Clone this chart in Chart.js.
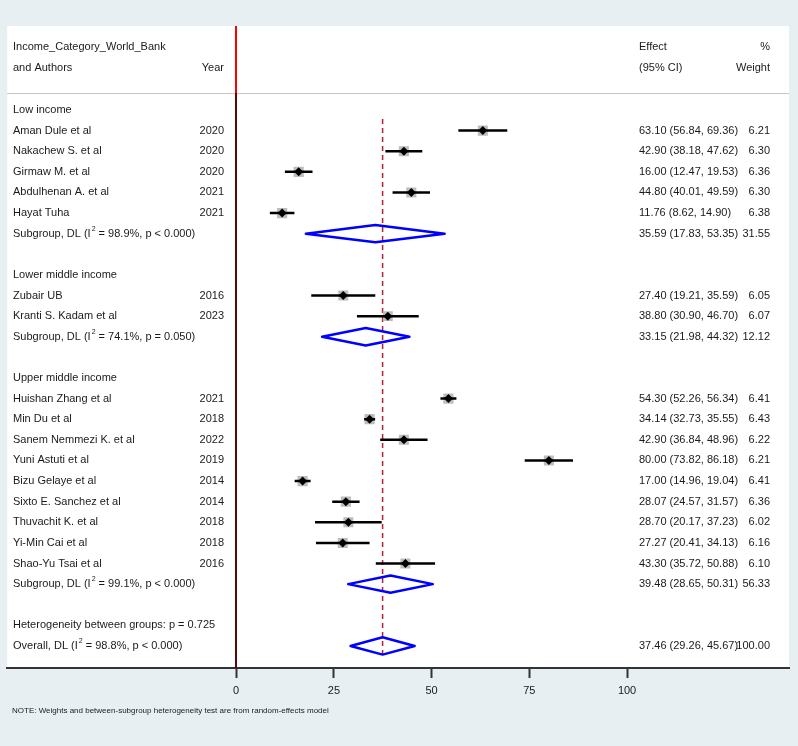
<!DOCTYPE html>
<html>
<head>
<meta charset="utf-8">
<script src="https://cdn.jsdelivr.net/npm/chart.js@4.4.1/dist/chart.umd.min.js"></script>
<style>
  html, body { margin: 0; padding: 0; background: #e8eff2; }
  canvas { display: block; }
</style>
</head>
<body>
<canvas id="forest" width="798" height="746"></canvas>
<script>
// ---- data ----
const groupNames = ["Low income", "Lower middle income", "Upper middle income"];

const studyNames = [
  "Aman Dule et al", "Nakachew S. et al", "Girmaw M. et al", "Abdulhenan A. et al", "Hayat Tuha",
  "Zubair UB", "Kranti S. Kadam et al",
  "Huishan Zhang et al", "Min Du et al", "Sanem Nemmezi K. et al", "Yuni Astuti et al",
  "Bizu Gelaye et al", "Sixto E. Sanchez et al", "Thuvachit K. et al", "Yi-Min Cai et al", "Shao-Yu Tsai et al"
];
const studyYears  = [2020, 2020, 2020, 2021, 2021, 2016, 2023, 2021, 2018, 2022, 2019, 2014, 2014, 2018, 2018, 2016];
const studyGroup  = [0, 0, 0, 0, 0, 1, 1, 2, 2, 2, 2, 2, 2, 2, 2, 2];
const studyEst    = [63.10, 42.90, 16.00, 44.80, 11.76, 27.40, 38.80, 54.30, 34.14, 42.90, 80.00, 17.00, 28.07, 28.70, 27.27, 43.30];
const studyLo     = [56.84, 38.18, 12.47, 40.01, 8.62, 19.21, 30.90, 52.26, 32.73, 36.84, 73.82, 14.96, 24.57, 20.17, 20.41, 35.72];
const studyHi     = [69.36, 47.62, 19.53, 49.59, 14.90, 35.59, 46.70, 56.34, 35.55, 48.96, 86.18, 19.04, 31.57, 37.23, 34.13, 50.88];
const studyWeight = [6.21, 6.30, 6.36, 6.30, 6.38, 6.05, 6.07, 6.41, 6.43, 6.22, 6.21, 6.41, 6.36, 6.02, 6.16, 6.10];

const subgroupLabels = [
  "Subgroup, DL (I^2 = 98.9%, p < 0.000)",
  "Subgroup, DL (I^2 = 74.1%, p = 0.050)",
  "Subgroup, DL (I^2 = 99.1%, p < 0.000)"
];
const subgroupEst    = [35.59, 33.15, 39.48];
const subgroupLo     = [17.83, 21.98, 28.65];
const subgroupHi     = [53.35, 44.32, 50.31];
const subgroupWeight = [31.55, 12.12, 56.33];

const hetLabel = "Heterogeneity between groups: p = 0.725";
const overallLabel = "Overall, DL (I^2 = 98.8%, p < 0.000)";
const overallEst = 37.46, overallLo = 29.26, overallHi = 45.67, overallWeight = 100.00;

const xTicks = [0, 25, 50, 75, 100];
const noteText = "NOTE: Weights and between-subgroup heterogeneity test are from random-effects model";

// ---- build rows (row index = y value) ----
const rows = [];
let r = 0;
groupNames.forEach((g, gi) => {
  rows.push({ y: r++, kind: "head", label: g });
  studyNames.forEach((n, i) => {
    if (studyGroup[i] === gi) rows.push({ y: r++, kind: "study", label: n, year: studyYears[i],
      est: studyEst[i], lo: studyLo[i], hi: studyHi[i], w: studyWeight[i] });
  });
  rows.push({ y: r++, kind: "sub", label: subgroupLabels[gi],
    est: subgroupEst[gi], lo: subgroupLo[gi], hi: subgroupHi[gi], w: subgroupWeight[gi] });
  r++; // blank line
});
rows.push({ y: r++, kind: "head", label: hetLabel });
rows.push({ y: r++, kind: "sub", label: overallLabel, est: overallEst, lo: overallLo, hi: overallHi, w: overallWeight });

const studies = rows.filter(d => d.kind === "study");
const pooled = rows.filter(d => d.kind === "sub");
const lastRow = r - 1;

const fmt = v => v.toFixed(2);
const FONT = "'Liberation Sans', Arial, sans-serif";
const DH = 0.42; // half-height of the pooled diamonds, in rows

const ciData = [];
studies.forEach(d => { ciData.push({ x: d.lo, y: d.y }, { x: d.hi, y: d.y }, { x: d.hi, y: null }); });

const diamondData = [];
pooled.forEach(d => {
  diamondData.push({ x: d.lo, y: d.y }, { x: d.est, y: d.y - DH }, { x: d.hi, y: d.y },
    { x: d.est, y: d.y + DH }, { x: d.lo, y: d.y }, { x: d.est, y: d.y - DH }, { x: d.lo, y: null });
});

function drawRich(ctx, text, x, y) {
  const parts = text.split("^2");
  let cx = x;
  ctx.textAlign = "left";
  parts.forEach((p, i) => {
    if (i > 0) {
      ctx.font = "7px " + FONT;
      ctx.fillText("2", cx + 1, y - 5);
      cx += ctx.measureText("2").width + 1;
      ctx.font = "11px " + FONT;
    }
    ctx.fillText(p, cx, y);
    cx += ctx.measureText(p).width;
  });
}

const forestPlugin = {
  id: "forest",
  beforeDraw(chart) {
    const { ctx, chartArea: a } = chart;
    ctx.save();
    ctx.fillStyle = "#ffffff";
    ctx.fillRect(a.left, a.top, a.right - a.left, a.bottom - a.top);
    ctx.restore();
  },
  beforeDatasetsDraw(chart) {
    const { ctx, chartArea: a, scales: { x, y } } = chart;
    const sepY = y.getPixelForValue(-0.82);
    ctx.save();
    // header separator
    ctx.strokeStyle = "#c4c4c4";
    ctx.lineWidth = 1;
    ctx.beginPath(); ctx.moveTo(a.left, sepY + 0.5); ctx.lineTo(a.right, sepY + 0.5); ctx.stroke();
    // null line at 0
    const x0 = Math.round(x.getPixelForValue(0));
    ctx.lineWidth = 2;
    ctx.strokeStyle = "#ff0000";
    ctx.beginPath(); ctx.moveTo(x0, a.top); ctx.lineTo(x0, sepY); ctx.stroke();
    ctx.strokeStyle = "#5a0606";
    ctx.beginPath(); ctx.moveTo(x0, sepY); ctx.lineTo(x0, a.bottom); ctx.stroke();
    // overall estimate dashed line
    const xo = x.getPixelForValue(overallEst);
    ctx.strokeStyle = "#b22234";
    ctx.lineWidth = 1.5;
    ctx.setLineDash([5, 4]);
    ctx.beginPath(); ctx.moveTo(xo, y.getPixelForValue(0.44)); ctx.lineTo(xo, y.getPixelForValue(lastRow + 0.53)); ctx.stroke();
    ctx.restore();
  },
  afterDraw(chart) {
    const { ctx, scales: { y } } = chart;
    ctx.save();
    ctx.fillStyle = "#1a1a1a";
    ctx.textBaseline = "middle";
    ctx.font = "11px " + FONT;
    const h1 = y.getPixelForValue(-3.05), h2 = y.getPixelForValue(-2.03);
    ctx.textAlign = "left";
    ctx.fillText("Income_Category_World_Bank", 13, h1);
    ctx.fillText("and Authors", 13, h2);
    ctx.fillText("Effect", 639, h1);
    ctx.fillText("(95% CI)", 639, h2);
    ctx.textAlign = "right";
    ctx.fillText("Year", 224, h2);
    ctx.fillText("%", 770, h1);
    ctx.fillText("Weight", 770, h2);

    rows.forEach(d => {
      const py = y.getPixelForValue(d.y);
      drawRich(ctx, d.label, 13, py);
      ctx.font = "11px " + FONT;
      if (d.year) { ctx.textAlign = "right"; ctx.fillText(String(d.year), 224, py); }
      if (d.est !== undefined) {
        ctx.textAlign = "left";
        ctx.fillText(fmt(d.est) + " (" + fmt(d.lo) + ", " + fmt(d.hi) + ")", 639, py);
        ctx.textAlign = "right";
        ctx.fillText(fmt(d.w), 770, py);
      }
    });

    ctx.textAlign = "left";
    ctx.font = "8px " + FONT;
    ctx.fillText(noteText, 12, 711);
    ctx.restore();
  }
};

new Chart(document.getElementById("forest"), {
  type: "scatter",
  data: {
    datasets: [
      {
        label: "weights",
        data: studies.map(d => ({ x: d.est, y: d.y })),
        pointStyle: "rect",
        pointRadius: studies.map(d => 2.85 * Math.sqrt(d.w)),
        backgroundColor: "#bdbdbd",
        borderWidth: 0,
        order: 3
      },
      {
        label: "ci",
        data: ciData,
        showLine: true,
        spanGaps: false,
        borderColor: "#000000",
        borderWidth: 2.5,
        pointRadius: 0,
        order: 2
      },
      {
        label: "estimates",
        data: studies.map(d => ({ x: d.est, y: d.y })),
        pointStyle: "rectRot",
        pointRadius: 4.5,
        backgroundColor: "#000000",
        borderWidth: 0,
        order: 1
      },
      {
        label: "pooled",
        data: diamondData,
        showLine: true,
        spanGaps: false,
        borderColor: "#0000ff",
        borderWidth: 2.5,
        borderJoinStyle: "round",
        pointRadius: 0,
        order: 0
      }
    ]
  },
  options: {
    responsive: false,
    animation: false,
    layout: { padding: { left: 7, right: 9, top: 26, bottom: 0 } },
    plugins: { legend: { display: false }, tooltip: { enabled: false } },
    scales: {
      x: {
        type: "linear",
        min: -58.57,
        max: 141.43,
        afterBuildTicks: s => { s.ticks = xTicks.map(v => ({ value: v })); },
        afterFit: s => { s.height = 78; },
        grid: { drawOnChartArea: false, drawTicks: true, tickLength: 10, tickColor: "#333333", tickWidth: 2 },
        border: { display: true, color: "#333333", width: 2 },
        ticks: { color: "#1a1a1a", font: { family: FONT, size: 11 }, padding: 6, maxRotation: 0, autoSkip: false }
      },
      y: {
        type: "linear",
        reverse: true,
        min: -4.075,
        max: 27.07,
        display: false
      }
    }
  },
  plugins: [forestPlugin]
});
</script>
</body>
</html>
